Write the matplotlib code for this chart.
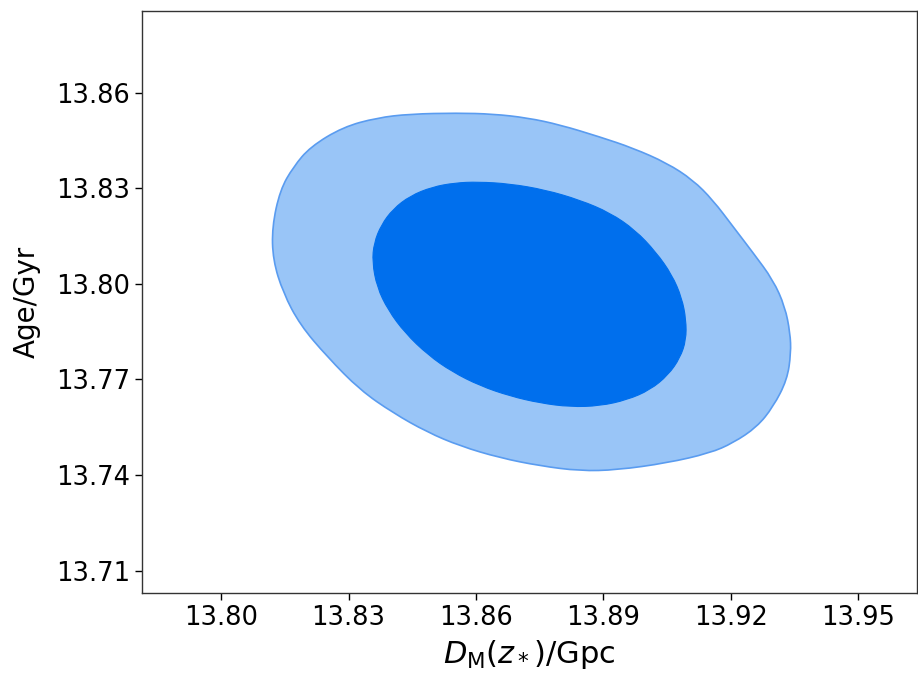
import numpy as np
import matplotlib
matplotlib.use("Agg")
import matplotlib.pyplot as plt
from matplotlib.path import Path
from matplotlib.patches import PathPatch

# 95% (outer) contour boundary
outer_x = [13.8122, 13.8120, 13.8139, 13.8170, 13.8210, 13.8287, 13.8367, 13.8445,
           13.8556, 13.8640, 13.8721, 13.8798, 13.8892, 13.8970, 13.9050, 13.9111,
           13.9158, 13.9206, 13.9253, 13.9300, 13.9328, 13.9340, 13.9342, 13.9333,
           13.9300, 13.9262, 13.9206, 13.9151, 13.9050, 13.8932, 13.8845, 13.8751,
           13.8657, 13.8563, 13.8485, 13.8405, 13.8327, 13.8250, 13.8186, 13.8146]
outer_y = [13.8075, 13.8179, 13.8295, 13.8367, 13.8430, 13.8492, 13.8521, 13.8533,
           13.8536, 13.8533, 13.8521, 13.8499, 13.8461, 13.8426, 13.8379, 13.8326,
           13.8263, 13.8179, 13.8097, 13.8012, 13.7928, 13.7846, 13.7783, 13.7699,
           13.7614, 13.7551, 13.7501, 13.7469, 13.7438, 13.7416, 13.7413, 13.7429,
           13.7454, 13.7491, 13.7535, 13.7595, 13.7667, 13.7771, 13.7871, 13.7972]

# 68% (inner) contour boundary
inner_x = [13.8356, 13.8360, 13.8377, 13.8405, 13.8445, 13.8497, 13.8551, 13.8605,
           13.8680, 13.8763, 13.8845, 13.8916, 13.8975, 13.9024, 13.9062, 13.9085,
           13.9095, 13.9095, 13.9081, 13.9053, 13.9010, 13.8956, 13.8892, 13.8822,
           13.8751, 13.8680, 13.8610, 13.8544, 13.8487, 13.8433, 13.8393, 13.8367]
inner_y = [13.8069, 13.8128, 13.8185, 13.8235, 13.8276, 13.8304, 13.8317, 13.8320,
           13.8314, 13.8295, 13.8263, 13.8223, 13.8169, 13.8100, 13.8028, 13.7956,
           13.7887, 13.7824, 13.7768, 13.7714, 13.7667, 13.7636, 13.7617, 13.7614,
           13.7626, 13.7648, 13.7680, 13.7724, 13.7777, 13.7846, 13.7918, 13.7990]

x_ticks = [13.80, 13.83, 13.86, 13.89, 13.92, 13.95]
y_ticks = [13.71, 13.74, 13.77, 13.80, 13.83, 13.86]
x_label = r"$D_{\rm M}(z_*)$/Gpc"
y_label = "Age/Gyr"


def smooth_closed_path(xs, ys):
    pts = np.column_stack([xs, ys])
    n = len(pts)
    mids = (pts + np.roll(pts, -1, axis=0)) / 2.0
    verts = [mids[-1]]
    codes = [Path.MOVETO]
    for i in range(n):
        verts.append(pts[i]); codes.append(Path.CURVE3)
        verts.append(mids[i]); codes.append(Path.CURVE3)
    verts.append(mids[-1]); codes.append(Path.CLOSEPOLY)
    return Path(np.array(verts), codes)


fig = plt.figure(figsize=(9.18, 6.75), dpi=100)
ax = fig.add_axes([0.1544, 0.121, 0.8446, 0.8631])

ax.add_patch(PathPatch(smooth_closed_path(outer_x, outer_y), facecolor="#99c5f7",
                       edgecolor="#5a9cf0", lw=1.2, zorder=1))
ax.add_patch(PathPatch(smooth_closed_path(inner_x, inner_y), facecolor="#006fed",
                       edgecolor="#006fed", lw=0.8, zorder=2))

ax.set_xlim(13.7813, 13.9639)
ax.set_ylim(13.7029, 13.8857)
ax.set_xticks(x_ticks)
ax.set_yticks(y_ticks)
ax.set_xticklabels([f"{v:.2f}" for v in x_ticks])
ax.set_yticklabels([f"{v:.2f}" for v in y_ticks])
ax.tick_params(labelsize=18.5, length=5, width=1)
ax.set_xlabel(x_label, fontsize=22, labelpad=5)
ax.set_ylabel(y_label, fontsize=20, labelpad=11)
for s in ax.spines.values():
    s.set_color("#333333")
    s.set_linewidth(1.0)

fig.savefig("out.png", dpi=100)
